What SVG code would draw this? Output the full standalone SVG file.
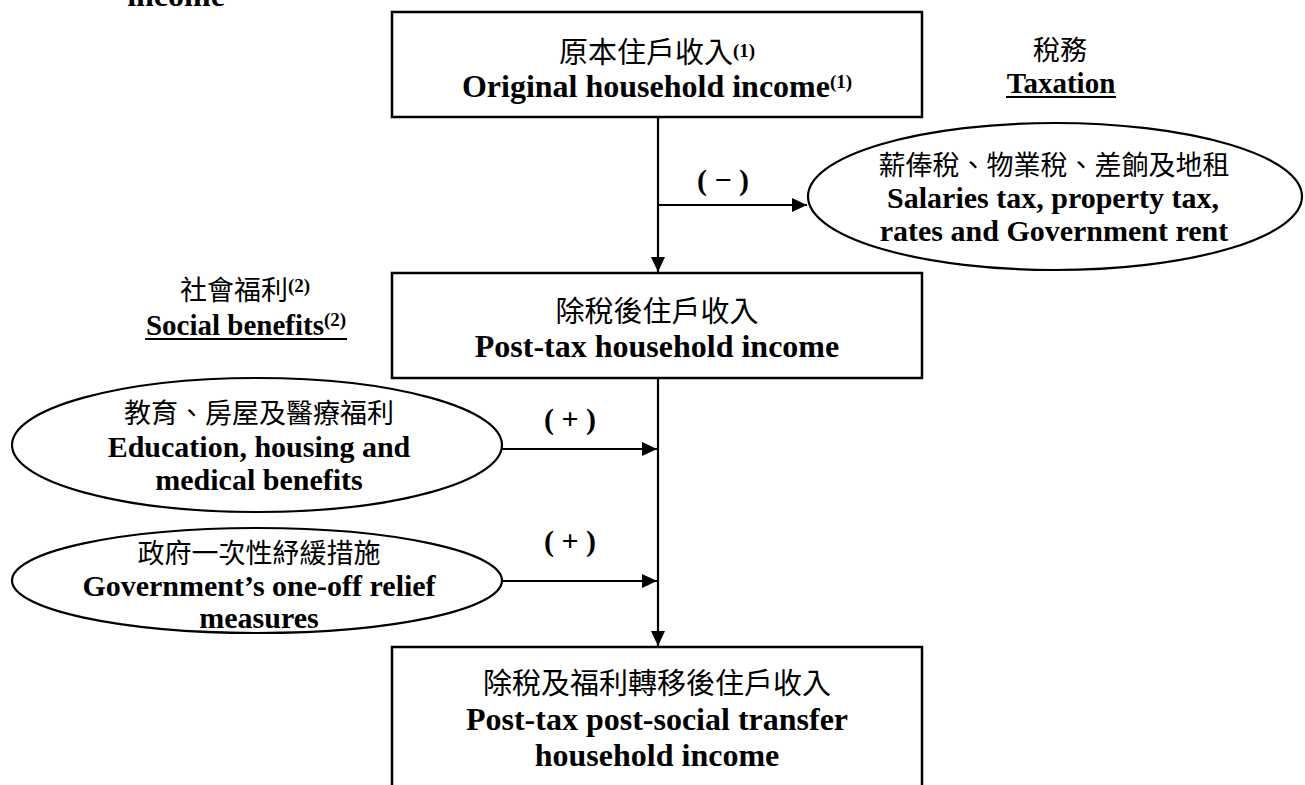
<svg xmlns="http://www.w3.org/2000/svg" width="1305" height="785" viewBox="0 0 1305 785">
  <style>
    .box { fill: #fff; stroke: #000; stroke-width: 2.5; }
    .ell { fill: #fff; stroke: #000; stroke-width: 2.2; }
    .conn { stroke: #000; stroke-width: 2.2; fill: none; }
    .uline { stroke: #000; stroke-width: 2; }
    .cjk { font-family: "Noto Sans CJK TC", "Noto Sans CJK SC", sans-serif; fill: #000; text-anchor: middle; }
    .en { font-family: "Liberation Serif", "Times New Roman", serif; font-weight: bold; fill: #000; text-anchor: middle; }
    .sup { font-family: "Liberation Serif", "Times New Roman", serif; font-weight: bold; font-size: 19px; }
    .b29 { font-size: 29px; }
    .c27 { font-size: 27px; }
    .e32 { font-size: 32px; }
    .e30 { font-size: 30px; }
    .e29 { font-size: 29px; }
  </style>
  <defs>
    <marker id="arr" markerUnits="userSpaceOnUse" markerWidth="16" markerHeight="15" refX="15" refY="7" orient="auto">
      <path d="M0,0 L15,7 L0,14 z" fill="#000"/>
    </marker>
  </defs>

  <g id="cut-label">
    <text class="en e32" x="176" y="6">income</text>
  </g>

  <g id="connectors">
    <line class="conn" x1="658" y1="117" x2="658" y2="272" marker-end="url(#arr)"/>
    <line class="conn" x1="658" y1="205" x2="807" y2="205" marker-end="url(#arr)"/>
    <line class="conn" x1="658" y1="378" x2="658" y2="646" marker-end="url(#arr)"/>
    <line class="conn" x1="502" y1="449" x2="657" y2="449" marker-end="url(#arr)"/>
    <line class="conn" x1="502" y1="581" x2="657" y2="581" marker-end="url(#arr)"/>
    <text class="en e30" x="723" y="190">( − )</text>
    <text class="en e30" x="570" y="429">( + )</text>
    <text class="en e30" x="570" y="551">( + )</text>
  </g>

  <g id="node-original">
    <rect class="box" x="392" y="12" width="530" height="105"/>
    <text class="cjk b29" x="657" y="63">原本住戶收入<tspan class="sup" dy="-6">(1)</tspan></text>
    <text class="en e32" x="657" y="97">Original household income<tspan class="sup" dy="-9">(1)</tspan></text>
  </g>

  <g id="label-taxation">
    <text class="cjk c27" x="1060" y="60">稅務</text>
    <text class="en e29" x="1061" y="93">Taxation</text>
    <line class="uline" x1="1006" y1="97" x2="1116" y2="97"/>
  </g>

  <g id="node-tax">
    <ellipse class="ell" cx="1055" cy="196.5" rx="247" ry="73.5"/>
    <text class="cjk c27" x="1054" y="175">薪俸稅、物業稅、差餉及地租</text>
    <text class="en e30" x="1053" y="208">Salaries tax, property tax,</text>
    <text class="en e30" x="1054" y="241">rates and Government rent</text>
  </g>

  <g id="node-posttax">
    <rect class="box" x="392" y="273" width="530" height="105"/>
    <text class="cjk b29" x="657" y="322">除稅後住戶收入</text>
    <text class="en e32" x="657" y="357">Post-tax household income</text>
  </g>

  <g id="label-social">
    <text class="cjk c27" x="245" y="300">社會福利<tspan class="sup" dy="-8">(2)</tspan></text>
    <text class="en e29" x="246" y="335">Social benefits<tspan class="sup" dy="-9">(2)</tspan></text>
    <line class="uline" x1="145" y1="339" x2="347" y2="339"/>
  </g>

  <g id="node-benefits">
    <ellipse class="ell" cx="257" cy="445" rx="245" ry="67"/>
    <text class="cjk c27" x="259" y="423">教育、房屋及醫療福利</text>
    <text class="en e30" x="259" y="457">Education, housing and</text>
    <text class="en e30" x="259" y="490">medical benefits</text>
  </g>

  <g id="node-relief">
    <ellipse class="ell" cx="257" cy="580.5" rx="245" ry="52.5"/>
    <text class="cjk c27" x="259" y="563">政府一次性紓緩措施</text>
    <text class="en e30" x="259" y="596">Government’s one-off relief</text>
    <text class="en e30" x="259" y="628">measures</text>
  </g>

  <g id="node-final">
    <rect class="box" x="392" y="647" width="530" height="160"/>
    <text class="cjk b29" x="657" y="694">除稅及福利轉移後住戶收入</text>
    <text class="en e32" x="657" y="730">Post-tax post-social transfer</text>
    <text class="en e32" x="657" y="766">household income</text>
  </g>
</svg>
